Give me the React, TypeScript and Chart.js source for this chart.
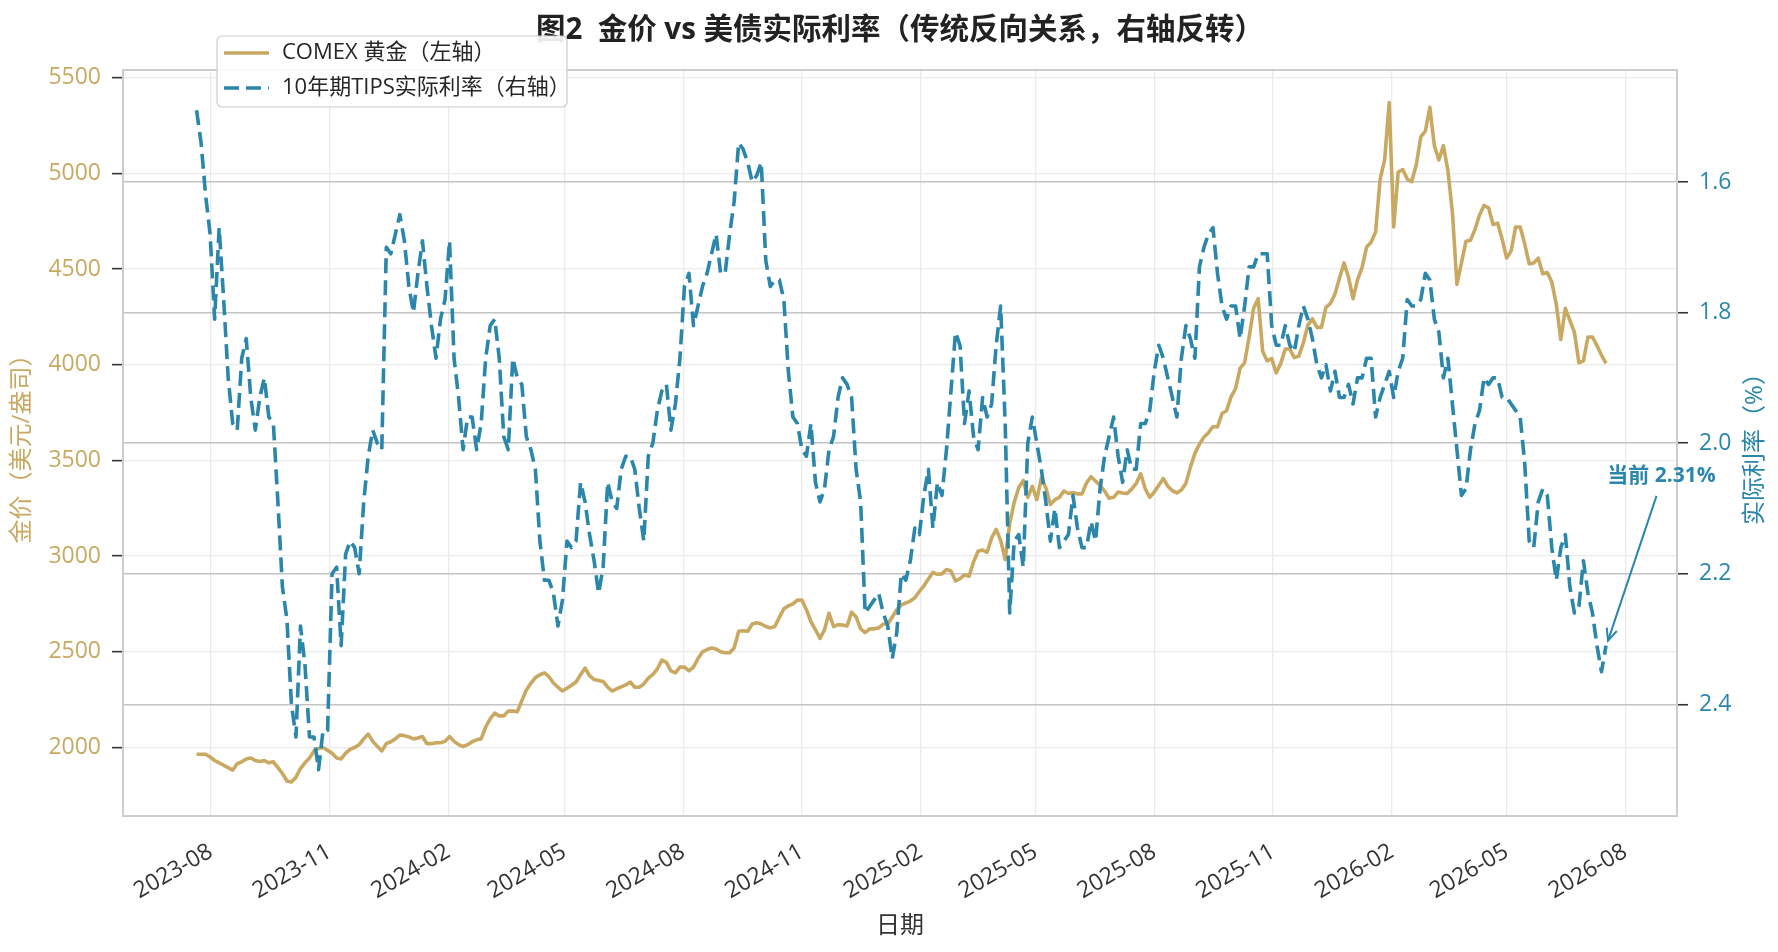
import React, { useEffect, useRef } from 'react';
import { Chart, registerables } from 'chart.js';

Chart.register(...registerables);

const FONT = "'Open Sans', 'Noto Sans CJK SC', sans-serif";
const GOLD = '#C9A962';
const BLUE = '#2A86AB';

const TITLE = '图2  金价 vs 美债实际利率（传统反向关系，右轴反转）';
const GOLD_LABEL = 'COMEX 黄金（左轴）';
const TIPS_LABEL = '10年期TIPS实际利率（右轴）';
const RIGHT_AXIS_TITLE = '实际利率（%）';

// observations every 3.5 days starting from this date
const START_DATE = '2023-07-21';
const STEP_MS = 3.5 * 86400000;

const goldPrices = [
  1965, 1965, 1965, 1950, 1932, 1920, 1907, 1895, 1882, 1915,
  1925, 1940, 1945, 1932, 1927, 1932, 1920, 1925, 1895, 1865,
  1825, 1820, 1845, 1890, 1920, 1945, 1982, 1995, 2000, 1985,
  1970, 1945, 1940, 1970, 1990, 2000, 2015, 2045, 2070, 2032,
  2007, 1982, 2020, 2030, 2045, 2065, 2062, 2055, 2045, 2050,
  2057, 2020, 2020, 2025, 2025, 2032, 2057, 2032, 2015, 2005,
  2015, 2030, 2040, 2045, 2107, 2150, 2180, 2165, 2165, 2190,
  2190, 2187, 2245, 2300, 2335, 2365, 2380, 2390, 2370, 2337,
  2315, 2295, 2310, 2325, 2342, 2380, 2415, 2375, 2355, 2350,
  2345, 2315, 2295, 2307, 2317, 2327, 2342, 2315, 2315, 2332,
  2362, 2382, 2410, 2457, 2445, 2400, 2390, 2420, 2420, 2400,
  2420, 2465, 2500, 2512, 2520, 2515, 2500, 2495, 2495, 2520,
  2607, 2610, 2607, 2645, 2652, 2645, 2632, 2625, 2632, 2680,
  2725, 2740, 2750, 2770, 2770, 2720, 2657, 2615, 2570, 2615,
  2702, 2632, 2642, 2640, 2635, 2707, 2682, 2620, 2600, 2620,
  2620, 2625, 2645, 2645, 2682, 2720, 2745, 2755, 2765, 2782,
  2815, 2845, 2880, 2915, 2905, 2907, 2930, 2922, 2870, 2882,
  2902, 2895, 2970, 3025, 3032, 3020, 3095, 3140, 3082, 2982,
  3170, 3282, 3357, 3395, 3307, 3365, 3295, 3407, 3357, 3270,
  3295, 3307, 3340, 3327, 3332, 3325, 3325, 3382, 3415, 3392,
  3370, 3340, 3302, 3307, 3335, 3330, 3327, 3350, 3380, 3430,
  3352, 3307, 3335, 3370, 3405, 3365, 3342, 3330, 3345, 3380,
  3465, 3537, 3585, 3622, 3645, 3677, 3675, 3745, 3760, 3832,
  3875, 3982, 4010, 4145, 4295, 4345, 4070, 4020, 4032, 3957,
  4007, 4082, 4082, 4037, 4045, 4115, 4207, 4240, 4195, 4195,
  4300, 4320, 4370, 4452, 4532, 4457, 4345, 4445, 4507, 4615,
  4640, 4695, 4970, 5070, 5370, 4720, 5007, 5020, 4970, 4957,
  5045, 5190, 5220, 5345, 5145, 5070, 5145, 5015, 4795, 4420,
  4532, 4645, 4650, 4707, 4782, 4832, 4820, 4732, 4740, 4657,
  4557, 4595, 4720, 4720, 4632, 4527, 4532, 4557, 4475, 4482,
  4432, 4315, 4132, 4295, 4232, 4170, 4010, 4020, 4145, 4145,
  4100, 4050, 4007,
];

const tipsRealYield = [
  1.49, 1.54, 1.62, 1.68, 1.81, 1.67, 1.78, 1.90, 1.97, 1.98,
  1.87, 1.84, 1.93, 1.98, 1.93, 1.90, 1.96, 1.97, 2.09, 2.22,
  2.27, 2.40, 2.45, 2.28, 2.34, 2.45, 2.45, 2.50, 2.44, 2.44,
  2.20, 2.19, 2.31, 2.17, 2.15, 2.16, 2.20, 2.09, 2.02, 1.98,
  2.00, 2.01, 1.70, 1.71, 1.68, 1.65, 1.69, 1.76, 1.80, 1.74,
  1.69, 1.76, 1.82, 1.87, 1.81, 1.78, 1.69, 1.87, 1.93, 2.01,
  1.96, 1.96, 2.01, 1.97, 1.87, 1.82, 1.81, 1.87, 1.99, 2.01,
  1.87, 1.90, 1.91, 1.99, 2.01, 2.04, 2.15, 2.21, 2.21, 2.23,
  2.28, 2.24, 2.15, 2.16, 2.15, 2.06, 2.09, 2.14, 2.18, 2.23,
  2.19, 2.06, 2.09, 2.10, 2.04, 2.02, 2.02, 2.04, 2.10, 2.15,
  2.02, 2.00, 1.95, 1.92, 1.91, 1.98, 1.94, 1.87, 1.76, 1.74,
  1.82, 1.79, 1.76, 1.74, 1.71, 1.68, 1.74, 1.74, 1.68, 1.63,
  1.54, 1.55, 1.57, 1.60, 1.59, 1.57, 1.72, 1.76, 1.75, 1.75,
  1.78, 1.89, 1.96, 1.97, 2.01, 2.02, 1.97, 2.06, 2.09, 2.07,
  2.01, 1.99, 1.93, 1.90, 1.91, 1.93, 2.04, 2.09, 2.26, 2.25,
  2.24, 2.23, 2.26, 2.28, 2.33, 2.29, 2.20, 2.21, 2.18, 2.13,
  2.14, 2.08, 2.04, 2.13, 2.06, 2.08, 2.01, 1.92, 1.83, 1.85,
  1.97, 1.92, 1.99, 2.01, 1.93, 1.96, 1.94, 1.85, 1.79, 1.97,
  2.26, 2.15, 2.14, 2.19, 2.00, 1.96, 2.00, 2.04, 2.09, 2.15,
  2.10, 2.16, 2.15, 2.14, 2.08, 2.13, 2.16, 2.16, 2.12, 2.15,
  2.07, 2.02, 1.99, 1.96, 2.02, 2.06, 2.01, 2.04, 2.04, 1.97,
  1.97, 1.95, 1.89, 1.85, 1.87, 1.90, 1.93, 1.96, 1.87, 1.82,
  1.84, 1.87, 1.73, 1.70, 1.68, 1.67, 1.74, 1.79, 1.81, 1.79,
  1.79, 1.84, 1.79, 1.73, 1.73, 1.71, 1.71, 1.71, 1.82, 1.85,
  1.85, 1.82, 1.85, 1.86, 1.82, 1.79, 1.81, 1.84, 1.88, 1.90,
  1.88, 1.92, 1.89, 1.93, 1.93, 1.91, 1.94, 1.90, 1.90, 1.87,
  1.87, 1.96, 1.93, 1.91, 1.89, 1.93, 1.89, 1.87, 1.78, 1.79,
  1.79, 1.78, 1.74, 1.75, 1.81, 1.83, 1.90, 1.87, 1.94, 2.01,
  2.08, 2.07, 2.01, 1.97, 1.95, 1.90, 1.91, 1.90, 1.90, 1.93,
  1.93, 1.94, 1.95, 1.96, 2.03, 2.15, 2.16, 2.09, 2.07, 2.08,
  2.16, 2.21, 2.16, 2.14, 2.22, 2.26, 2.25, 2.18, 2.23, 2.26,
  2.31, 2.35, 2.31,
];

const xTickLabels = [
  '2023-08', '2023-11', '2024-02', '2024-05', '2024-08', '2024-11', '2025-02',
  '2025-05', '2025-08', '2025-11', '2026-02', '2026-05', '2026-08',
];
const goldTicks = [2000, 2500, 3000, 3500, 4000, 4500, 5000, 5500];
const tipsTicks = [1.6, 1.8, 2.0, 2.2, 2.4];

const X_MIN = '2023-05-25';
const X_MAX = '2026-09-10';
const GOLD_MIN = 1642;
const GOLD_MAX = 5540;
const TIPS_MIN = 1.4285;
const TIPS_MAX = 2.571;

const ANNOT_TEXT = '当前 2.31%';
const ANNOT_DATE = '2026-08-29';
const ANNOT_Y = 2.05;

const toMs = (s: string) => Date.parse(s + 'T00:00:00Z');
const obsDates = goldPrices.map((_, i) => toMs(START_DATE) + i * STEP_MS);

const overlayPlugin = {
  id: 'overlay',
  beforeDatasetsDraw(chart: any) {
    const { ctx, chartArea } = chart;
    ctx.save();
    ctx.strokeStyle = '#CCCCCC';
    ctx.lineWidth = 2;
    ctx.strokeRect(chartArea.left, chartArea.top, chartArea.right - chartArea.left, chartArea.bottom - chartArea.top);
    ctx.restore();
  },
  afterDraw(chart: any) {
    const { ctx, chartArea } = chart;
    const xs = chart.scales.x;
    const yr = chart.scales.yR;
    ctx.save();
    // title
    ctx.fillStyle = '#222222';
    ctx.font = `bold 29.5px ${FONT}`;
    ctx.textAlign = 'center';
    ctx.textBaseline = 'middle';
    ctx.fillText(TITLE, (chartArea.left + chartArea.right) / 2, 31);

    // right axis title, rotated counter-clockwise like the left one
    ctx.save();
    ctx.translate(1755, (chartArea.top + chartArea.bottom) / 2);
    ctx.rotate(-Math.PI / 2);
    ctx.fillStyle = BLUE;
    ctx.font = `24px ${FONT}`;
    ctx.textAlign = 'center';
    ctx.textBaseline = 'middle';
    ctx.fillText(RIGHT_AXIS_TITLE, 0, 0);
    ctx.restore();

    // legend
    const lx = 217, ly = 36, lw = 350, lh = 71, r = 5;
    ctx.beginPath();
    ctx.moveTo(lx + r, ly);
    ctx.lineTo(lx + lw - r, ly);
    ctx.arcTo(lx + lw, ly, lx + lw, ly + r, r);
    ctx.lineTo(lx + lw, ly + lh - r);
    ctx.arcTo(lx + lw, ly + lh, lx + lw - r, ly + lh, r);
    ctx.lineTo(lx + r, ly + lh);
    ctx.arcTo(lx, ly + lh, lx, ly + lh - r, r);
    ctx.lineTo(lx, ly + r);
    ctx.arcTo(lx, ly, lx + r, ly, r);
    ctx.closePath();
    ctx.fillStyle = 'rgba(255,255,255,0.9)';
    ctx.fill();
    ctx.strokeStyle = '#CCCCCC';
    ctx.lineWidth = 1.2;
    ctx.stroke();

    ctx.lineWidth = 3.6;
    ctx.strokeStyle = GOLD;
    ctx.beginPath();
    ctx.moveTo(224, 53);
    ctx.lineTo(269, 53);
    ctx.stroke();
    ctx.strokeStyle = BLUE;
    ctx.setLineDash([15, 7]);
    ctx.beginPath();
    ctx.moveTo(224, 88);
    ctx.lineTo(269, 88);
    ctx.stroke();
    ctx.setLineDash([]);

    ctx.fillStyle = '#262626';
    ctx.font = `22px ${FONT}`;
    ctx.textAlign = 'left';
    ctx.textBaseline = 'middle';
    ctx.fillText(GOLD_LABEL, 282, 53);
    ctx.fillText(TIPS_LABEL, 282, 88);

    // annotation
    const tx = xs.getPixelForValue(toMs(ANNOT_DATE));
    const ty = yr.getPixelForValue(ANNOT_Y);
    const last = tipsRealYield.length - 1;
    const px = xs.getPixelForValue(obsDates[last]);
    const py = yr.getPixelForValue(tipsRealYield[last]);
    ctx.fillStyle = BLUE;
    ctx.font = `bold 21px ${FONT}`;
    ctx.textAlign = 'center';
    ctx.fillText(ANNOT_TEXT, tx, ty);
    const sx = tx - 5, sy = ty + 20;
    const ex = px + 2, ey = py - 5;
    ctx.strokeStyle = BLUE;
    ctx.lineWidth = 2;
    ctx.beginPath();
    ctx.moveTo(sx, sy);
    ctx.lineTo(ex, ey);
    ctx.stroke();
    const ang = Math.atan2(ey - sy, ex - sx);
    const hl = 13, ha = 0.42;
    ctx.beginPath();
    ctx.moveTo(ex - hl * Math.cos(ang - ha), ey - hl * Math.sin(ang - ha));
    ctx.lineTo(ex, ey);
    ctx.lineTo(ex - hl * Math.cos(ang + ha), ey - hl * Math.sin(ang + ha));
    ctx.stroke();
    ctx.restore();
  },
};

export default function App() {
  const ref = useRef<HTMLCanvasElement | null>(null);
  useEffect(() => {
    document.body.style.margin = '0';
    const canvas = ref.current;
    if (!canvas) return;
    const tickFont = { size: 23, family: FONT };
    const titleFont = { size: 24, family: FONT };
    const chart = new Chart(canvas, {
      type: 'line',
      data: {
        datasets: [
          {
            label: TIPS_LABEL,
            data: obsDates.map((d, i) => ({ x: d, y: tipsRealYield[i] })),
            yAxisID: 'yR',
            borderColor: BLUE,
            borderWidth: 3.6,
            borderDash: [15, 7],
            borderJoinStyle: 'round',
            pointRadius: 0,
            tension: 0,
            order: 0,
          },
          {
            label: GOLD_LABEL,
            data: obsDates.map((d, i) => ({ x: d, y: goldPrices[i] })),
            yAxisID: 'yL',
            borderColor: GOLD,
            borderWidth: 3.6,
            borderJoinStyle: 'round',
            pointRadius: 0,
            tension: 0,
            order: 1,
          },
        ],
      },
      options: {
        responsive: false,
        animation: false,
        devicePixelRatio: 1,
        layout: { padding: { top: 70, left: 0, right: 0, bottom: 0 } },
        plugins: {
          legend: { display: false },
          title: { display: false },
          tooltip: { enabled: false },
        },
        scales: {
          x: {
            type: 'linear',
            position: 'bottom',
            min: toMs(X_MIN),
            max: toMs(X_MAX),
            afterBuildTicks: (s: any) => {
              s.ticks = xTickLabels.map((l) => ({ value: toMs(l + '-01') }));
            },
            afterFit: (s: any) => {
              s.height = 136;
            },
            ticks: {
              autoSkip: false,
              maxRotation: 30,
              minRotation: 30,
              padding: 14,
              color: '#333333',
              font: tickFont,
              callback: (_v: any, i: number) => xTickLabels[i],
            },
            grid: { color: '#EBEBEB', lineWidth: 1.3, tickLength: 8, tickColor: 'rgba(0,0,0,0)' },
            border: { display: false },
            title: {
              display: true,
              text: '日期',
              color: '#333333',
              font: titleFont,
              padding: { top: 0, bottom: 11 },
            },
          },
          yL: {
            type: 'linear',
            position: 'left',
            min: GOLD_MIN,
            max: GOLD_MAX,
            afterBuildTicks: (s: any) => {
              s.ticks = goldTicks.map((v) => ({ value: v }));
            },
            afterFit: (s: any) => {
              s.width = 123;
            },
            ticks: { color: GOLD, font: tickFont, padding: 11, callback: (v: any) => String(v) },
            grid: { color: '#EBEBEB', lineWidth: 1.3, tickLength: 11, tickColor: '#333333', tickWidth: 1.6 },
            border: { display: false },
            title: {
              display: true,
              text: '金价（美元/盎司）',
              color: GOLD,
              font: titleFont,
              padding: { top: 8, bottom: 0 },
            },
          },
          yR: {
            type: 'linear',
            position: 'right',
            reverse: true,
            min: TIPS_MIN,
            max: TIPS_MAX,
            afterBuildTicks: (s: any) => {
              s.ticks = tipsTicks.map((v) => ({ value: v }));
            },
            afterFit: (s: any) => {
              s.width = 101;
            },
            ticks: { color: BLUE, font: tickFont, padding: 11, callback: (v: any) => Number(v).toFixed(1) },
            grid: { color: '#C4C4C4', lineWidth: 1.5, tickLength: 11, tickColor: '#333333', tickWidth: 1.6 },
            border: { display: false },
            title: { display: false },
          },
        },
      } as any,
      plugins: [overlayPlugin],
    });
    return () => chart.destroy();
  }, []);
  return (
    <div style={{ width: 1778, height: 952, position: 'relative', background: '#ffffff' }}>
      <canvas ref={ref} width={1778} height={952} style={{ display: 'block', width: 1778, height: 952 }} />
    </div>
  );
}
